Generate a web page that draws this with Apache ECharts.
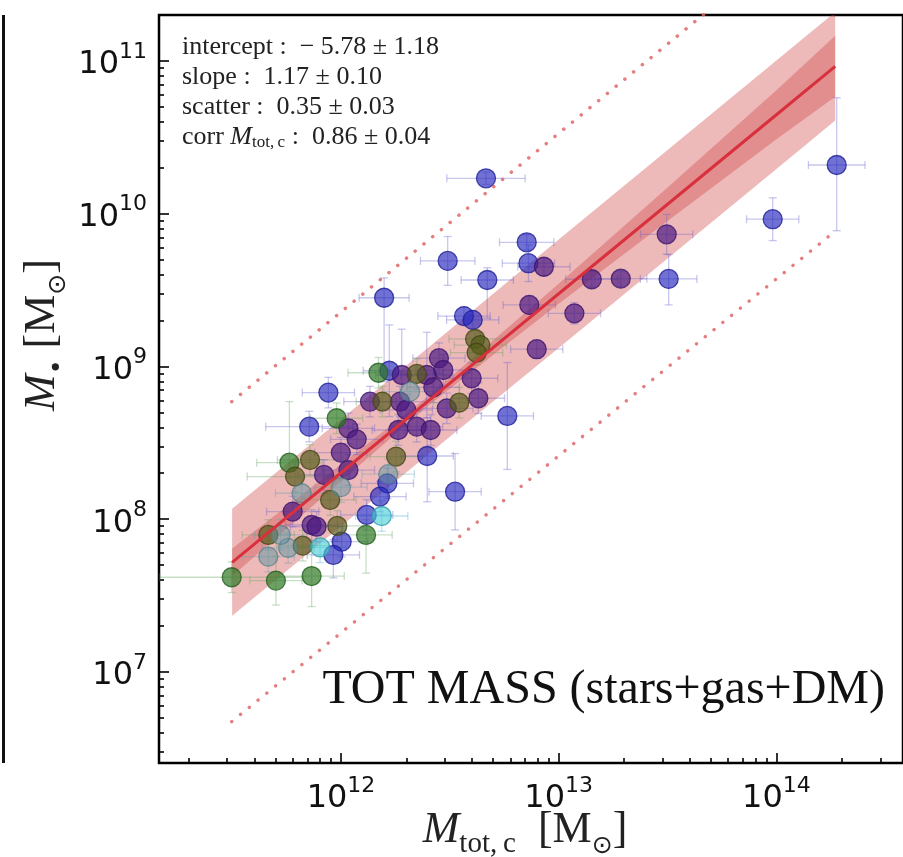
<!DOCTYPE html>
<html><head><meta charset="utf-8">
<script src="https://cdn.jsdelivr.net/npm/echarts@6/dist/echarts.min.js"></script>
<style>html,body{margin:0;padding:0;background:#fff}#c{width:903px;height:857px}</style>
</head><body><div id="c"></div>
<script>
// ---- values (log10 of masses) ----
const xTickLabels = [12, 13, 14];
const yTickLabels = [7, 8, 9, 10, 11];
const groupNames = ['B', 'P', 'G', 'O', 'C', 'S'];
const galLogMtot = [12.666,12.853,12.490,12.861,12.932,12.672,13.152,13.285,13.496,13.505,13.983,14.277,12.865,13.072,12.565,12.605,12.899,12.450,12.616,12.640,12.623,12.198,12.172,12.222,12.279,12.348,12.394,12.470,12.600,12.424,12.317,12.631,12.543,12.486,11.942,12.133,12.190,12.271,12.300,11.980,12.034,12.072,12.263,12.348,12.412,12.764,11.854,11.999,12.253,12.396,12.034,11.763,11.858,11.789,11.922,12.000,12.217,12.213,12.179,12.524,11.950,11.819,11.778,11.865,11.888,11.983,12.118,12.187,12.115,12.003,11.965,11.904,11.824,11.757,11.666,11.723,11.666,11.498,11.701,11.865];
const galLogMbh  = [10.232,9.813,9.691,9.676,9.653,9.566,9.571,9.575,9.865,9.573,9.964,10.319,9.403,9.348,9.330,9.305,9.113,9.054,9.180,9.140,9.090,9.450,8.959,8.972,8.944,8.951,8.944,8.977,8.923,8.864,8.835,8.792,8.763,8.726,8.829,8.770,8.770,8.770,8.716,8.661,8.595,8.523,8.584,8.606,8.584,8.676,8.606,8.436,8.410,8.414,8.322,8.370,8.388,8.279,8.290,8.210,8.295,8.235,8.148,8.180,8.126,8.170,8.050,7.962,7.951,7.956,8.028,8.021,7.897,7.853,7.766,7.816,7.827,7.812,7.897,7.897,7.755,7.620,7.598,7.628];
const galGroup   = ['B','B','B','B','P','B','P','P','P','B','B','B','P','P','B','B','P','P','O','O','O','B','G','B','P','O','P','P','P','P','S','P','O','P','B','P','O','P','P','G','P','P','P','P','P','B','B','P','O','B','P','G','O','O','P','S','S','B','B','B','O','S','P','P','P','O','B','C','G','B','B','C','O','S','O','S','S','G','G','G'];
const galXErr    = [0.18,0.125,0.125,0.12,0.12,0.12,0.12,0.12,0.12,0.13,0.12,0.13,0.12,0.12,0.12,0.12,0.12,0.12,0.12,0.12,0.12,0.115,0.14,0.12,0.12,0.12,0.12,0.12,0.12,0.12,0.12,0.12,0.12,0.12,0.12,0.12,0.12,0.12,0.12,0.12,0.12,0.12,0.12,0.12,0.12,0.12,0.20,0.12,0.12,0.12,0.12,0.15,0.15,0.22,0.12,0.12,0.12,0.12,0.12,0.12,0.12,0.12,0.12,0.12,0.12,0.12,0.12,0.12,0.12,0.12,0.12,0.12,0.12,0.12,0.12,0.12,0.12,0.33,0.12,0.15];
const galYErrLo  = [0.04,0.05,0.16,0.12,0.06,0.25,0.05,0.05,0.13,0.17,0.14,0.43,0.06,0.07,0.06,0.06,0.06,0.10,0.06,0.08,0.08,0.55,0.10,0.30,0.30,0.10,0.28,0.10,0.10,0.10,0.10,0.10,0.10,0.10,0.10,0.10,0.10,0.10,0.10,0.10,0.10,0.10,0.10,0.10,0.10,0.35,0.10,0.10,0.10,0.30,0.10,0.10,0.10,0.10,0.10,0.10,0.10,0.10,0.10,0.25,0.10,0.10,0.10,0.10,0.10,0.10,0.10,0.10,0.25,0.10,0.15,0.10,0.10,0.10,0.10,0.10,0.10,0.10,0.16,0.20];
const galYErrHi  = [0.04,0.05,0.16,0.12,0.06,0.08,0.05,0.05,0.13,0.16,0.14,0.44,0.06,0.07,0.06,0.06,0.06,0.10,0.06,0.08,0.08,0.13,0.10,0.30,0.30,0.10,0.28,0.10,0.10,0.10,0.10,0.10,0.10,0.10,0.10,0.10,0.10,0.10,0.10,0.10,0.10,0.10,0.10,0.10,0.10,0.35,0.10,0.10,0.10,0.25,0.10,0.40,0.10,0.10,0.10,0.10,0.10,0.10,0.10,0.25,0.10,0.10,0.10,0.10,0.10,0.10,0.10,0.10,0.10,0.10,0.10,0.10,0.10,0.10,0.10,0.10,0.10,0.10,0.16,0.20];
// fit line and bands
const fitLogMtot   = [11.50, 12.0, 12.4, 13.0, 13.5, 14.0, 14.27];
const fitLogMbh    = [7.718, 8.304, 8.773, 9.476, 10.062, 10.648, 10.965];
const fitErrHalf   = [0.09, 0.055, 0.03, 0.065, 0.11, 0.16, 0.20];
const scatterHalf  = [0.35, 0.35, 0.35, 0.355, 0.355, 0.355, 0.355];
const dottedUpper  = [[11.498, 8.77], [13.67, 11.31]];
const dottedLower  = [[11.498, 6.675], [14.277, 9.894]];

// ---- styling ----
const fillColors = {B:'rgba(40,40,190,0.66)', P:'rgba(75,25,130,0.70)', G:'rgba(45,120,35,0.70)', O:'rgba(85,90,25,0.68)', C:'rgba(70,205,215,0.62)', S:'rgba(95,150,160,0.50)'};
const edgeColors = {B:'rgba(30,30,150,0.8)', P:'rgba(60,20,110,0.8)', G:'rgba(35,95,30,0.8)', O:'rgba(65,70,20,0.8)', C:'rgba(50,160,170,0.8)', S:'rgba(80,125,135,0.7)'};
const barColors  = {B:'rgba(100,100,210,0.36)', P:'rgba(110,100,200,0.36)', G:'rgba(100,165,100,0.36)', O:'rgba(110,160,100,0.36)', C:'rgba(80,180,200,0.36)', S:'rgba(100,160,180,0.36)'};

const X_MIN = 11.164, X_MAX = 14.5815, Y_MIN = 6.404, Y_MAX = 11.301;
function minors(lo, hi) {
  const out = [];
  for (let n = 5; n <= 15; n++) for (let k = 2; k <= 9; k++) {
    const v = n + Math.log10(k);
    if (v > lo && v < hi) out.push(v);
  }
  return out;
}
const xMinor = minors(X_MIN, X_MAX), yMinor = minors(Y_MIN, Y_MAX);

const tickRich = {
  b: {fontFamily: 'DejaVu Sans', fontSize: 32, color: '#111', lineHeight: 40, verticalAlign: 'bottom'},
  s: {fontFamily: 'DejaVu Sans', fontSize: 22, color: '#111', lineHeight: 22, verticalAlign: 'top'}
};
const tickStyle = {color: '#000', width: 1.6};
function mainAxis(dim, min, max, labels) {
  return {
    type: 'value', min, max, position: dim === 'x' ? 'bottom' : 'left',
    axisLine: {show: false}, splitLine: {show: false},
    axisTick: {show: true, inside: true, length: 10, lineStyle: tickStyle, customValues: labels},
    axisLabel: {customValues: labels, margin: 12, formatter: v => '{b|10}{s|' + Math.round(v) + '}', rich: tickRich}
  };
}
function minorAxis(dim, min, max, vals) {
  return {
    type: 'value', min, max, position: dim === 'x' ? 'bottom' : 'left',
    axisLine: {show: false}, splitLine: {show: false}, axisLabel: {show: false},
    axisTick: {show: true, inside: true, length: 5, lineStyle: tickStyle, customValues: vals}
  };
}

// polygon clipping to the plot rectangle (Sutherland-Hodgman)
function clipPoly(pts, r) {
  const edges = [
    [p => p[0] >= r.x, (a, b) => { const t = (r.x - a[0]) / (b[0] - a[0]); return [r.x, a[1] + t * (b[1] - a[1])]; }],
    [p => p[0] <= r.x + r.width, (a, b) => { const X = r.x + r.width, t = (X - a[0]) / (b[0] - a[0]); return [X, a[1] + t * (b[1] - a[1])]; }],
    [p => p[1] >= r.y, (a, b) => { const t = (r.y - a[1]) / (b[1] - a[1]); return [a[0] + t * (b[0] - a[0]), r.y]; }],
    [p => p[1] <= r.y + r.height, (a, b) => { const Y = r.y + r.height, t = (Y - a[1]) / (b[1] - a[1]); return [a[0] + t * (b[0] - a[0]), Y]; }]
  ];
  let out = pts;
  edges.forEach(([inside, inter]) => {
    const inp = out; out = [];
    for (let i = 0; i < inp.length; i++) {
      const cur = inp[i], prev = inp[(i + inp.length - 1) % inp.length];
      if (inside(cur)) { if (!inside(prev)) out.push(inter(prev, cur)); out.push(cur); }
      else if (inside(prev)) out.push(inter(prev, cur));
    }
  });
  return out;
}

const errData = galLogMtot.map((x, i) => [x, galLogMbh[i], galXErr[i], galYErrLo[i], galYErrHi[i], groupNames.indexOf(galGroup[i])]);

const series = [];
function band(name, half, color) {
  series.push({
    type: 'custom', name: name, z: 1, silent: true,
    data: [[fitLogMtot[0], fitLogMbh[0]]],
    renderItem(params, api) {
      const upper = fitLogMtot.map((x, i) => api.coord([x, fitLogMbh[i] + half[i]]));
      const lower = fitLogMtot.map((x, i) => api.coord([x, fitLogMbh[i] - half[i]])).reverse();
      const pts = clipPoly(upper.concat(lower), params.coordSys);
      return {type: 'polygon', shape: {points: pts}, style: {fill: color, stroke: null}};
    }
  });
}
band('scatter band', scatterHalf, 'rgba(205,60,60,0.36)');
band('fit band', fitErrHalf, 'rgba(205,60,60,0.34)');
series.push({
  type: 'custom', name: 'errors', z: 2, data: errData, silent: true,
  renderItem(params, api) {
    const x = api.value(0), y = api.value(1), xe = api.value(2), yl = api.value(3), yh = api.value(4);
    const g = groupNames[api.value(5)];
    const l = api.coord([x - xe, y]), r = api.coord([x + xe, y]);
    const t = api.coord([x, y + yh]), b = api.coord([x, y - yl]);
    const cap = 4;
    const style = {stroke: barColors[g], lineWidth: 1.3, fill: null};
    const ln = (x1, y1, x2, y2) => ({type: 'line', shape: {x1, y1, x2, y2}, style});
    return {type: 'group', children: [
      ln(l[0], l[1], r[0], r[1]),
      ln(l[0], l[1] - cap, l[0], l[1] + cap),
      ln(r[0], r[1] - cap, r[0], r[1] + cap),
      ln(t[0], t[1], b[0], b[1]),
      ln(t[0] - cap, t[1], t[0] + cap, t[1]),
      ln(b[0] - cap, b[1], b[0] + cap, b[1])
    ]};
  }
});
groupNames.forEach(g => {
  const pts = [];
  galLogMtot.forEach((x, i) => { if (galGroup[i] === g) pts.push([x, galLogMbh[i]]); });
  series.push({
    type: 'scatter', name: 'group ' + g, z: 3, data: pts, symbol: 'circle', symbolSize: 19,
    itemStyle: {color: fillColors[g], borderColor: edgeColors[g], borderWidth: 1.3, opacity: 1},
    emphasis: {disabled: true}
  });
});
series.push({type: 'line', name: 'fit', z: 4, symbol: 'none', silent: true,
  data: fitLogMtot.map((x, i) => [x, fitLogMbh[i]]),
  lineStyle: {color: '#d8303c', width: 3}});
[dottedUpper, dottedLower].forEach((d, k) => series.push({
  type: 'line', name: k ? 'lower 3σ' : 'upper 3σ', z: 4, symbol: 'none', silent: true, data: d,
  lineStyle: {color: 'rgba(225,105,105,0.85)', width: 3.5, type: [0.1, 11.2], cap: 'round'}
}));

const serif = '"Liberation Serif", "DejaVu Serif", serif';
const annRich = {
  i: {fontFamily: serif, fontSize: 26, fontStyle: 'italic', fill: '#222'},
  sub: {fontFamily: serif, fontSize: 17, fill: '#222', padding: [11, 0, 0, 0]}
};
const annLines = [
  'intercept :  \u2212 5.78 ± 1.18',
  'slope :  1.17 ± 0.10',
  'scatter :  0.35 ± 0.03',
  'corr {i|M}{sub|tot,\u2009c} :  0.86 ± 0.04'
];
const graphics = annLines.map((t, k) => ({
  type: 'text', x: 182, y: 47 + 30 * k, silent: true,
  style: {text: t, fontFamily: serif, fontSize: 26, fill: '#222', align: 'left', verticalAlign: 'middle', rich: annRich}
}));
graphics.push({type: 'text', x: 885, y: 690, silent: true,
  style: {text: 'TOT MASS (stars+gas+DM)', fontFamily: serif, fontSize: 48, fill: '#111', align: 'right', verticalAlign: 'middle'}});
const titleRich = {
  i: {fontFamily: serif, fontSize: 44, fontStyle: 'italic', fill: '#222', lineHeight: 58, verticalAlign: 'middle'},
  r: {fontFamily: serif, fontSize: 44, fill: '#222', lineHeight: 58, verticalAlign: 'middle'},
  sub: {fontFamily: serif, fontSize: 29, fill: '#222', lineHeight: 29, verticalAlign: 'bottom'},
  sym: {fontFamily: '"DejaVu Sans", sans-serif', fontSize: 25, fill: '#222', lineHeight: 29, verticalAlign: 'bottom'}
};
graphics.push({type: 'text', x: 525, y: 830, silent: true,
  style: {text: '{i|M}{sub|tot,\u2009c}{r|  [M}{sym|⊙}{r|]}', align: 'center', verticalAlign: 'middle', rich: titleRich}});
graphics.push({type: 'text', x: 42, y: 335, rotation: Math.PI / 2, silent: true,
  style: {text: '{i|M}{sym|•}{r| [M}{sym|⊙}{r|]}', align: 'center', verticalAlign: 'middle', rich: titleRich}});
graphics.push({type: 'rect', x: 2, y: 15, silent: true, shape: {width: 3, height: 748}, style: {fill: '#111'}});

const chart = echarts.init(document.getElementById('c'), null, {renderer: 'canvas'});
chart.setOption({
  animation: false,
  backgroundColor: '#fff',
  grid: {left: 159, top: 15, right: 0, bottom: 94, show: true, borderColor: '#000', borderWidth: 2.5, backgroundColor: 'transparent'},
  xAxis: [mainAxis('x', X_MIN, X_MAX, xTickLabels), minorAxis('x', X_MIN, X_MAX, xMinor)],
  yAxis: [mainAxis('y', Y_MIN, Y_MAX, yTickLabels), minorAxis('y', Y_MIN, Y_MAX, yMinor)],
  series: series,
  graphic: graphics
});
</script></body></html>
